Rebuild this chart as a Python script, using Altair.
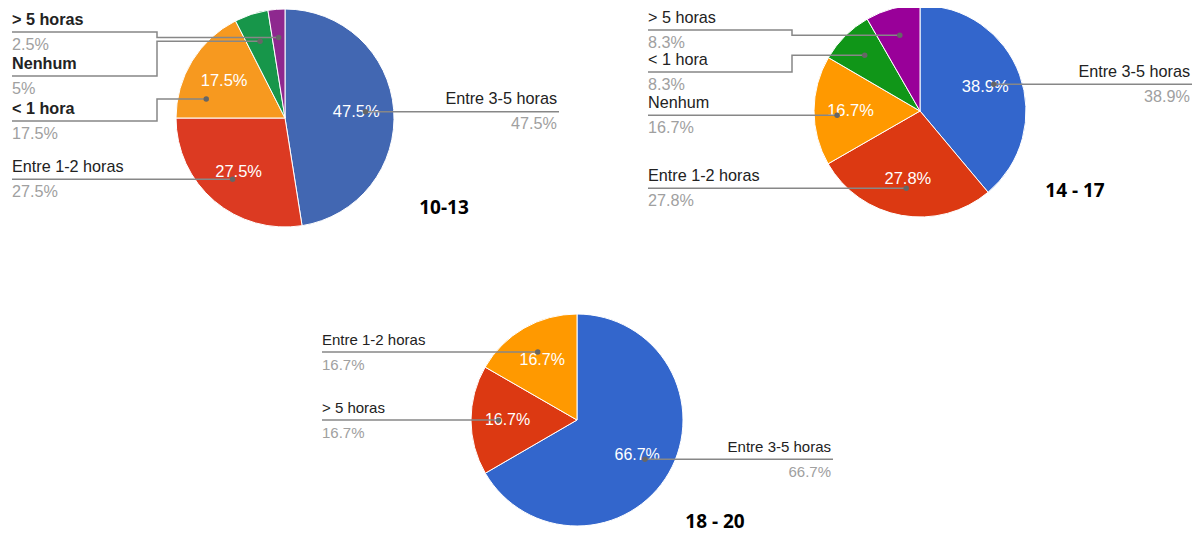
import math
import altair as alt
import pandas as pd

# ---------------- data ----------------
titles = ["10-13", "14 - 17", "18 - 20"]

cats_1013 = ["Entre 3-5 horas", "Entre 1-2 horas", "< 1 hora", "Nenhum", "> 5 horas"]
vals_1013 = [47.5, 27.5, 17.5, 5.0, 2.5]

cats_1417 = ["Entre 3-5 horas", "Entre 1-2 horas", "Nenhum", "< 1 hora", "> 5 horas"]
vals_1417 = [38.9, 27.8, 16.7, 8.3, 8.3]

cats_1820 = ["Entre 3-5 horas", "> 5 horas", "Entre 1-2 horas"]
vals_1820 = [66.7, 16.7, 16.7]

# ---------------- styles / layout ----------------
palette_1013 = ["#4267b2", "#dc3a22", "#f7991f", "#17964a", "#8e288f"]
palette_google = ["#3366cc", "#dc3912", "#ff9900", "#109618", "#990099"]

LABEL_FONT = "Liberation Sans"
TITLE_FONT = "Open Sans"
NAME_COLOR = "#222222"
VALUE_COLOR = "#a0a0a0"
LINE_COLOR = "#878787"
DOT_COLOR = "#666666"

pies = [
    dict(title=titles[0], cats=cats_1013, vals=vals_1013, palette=palette_1013,
         cx=285, cy=118, r=109, left_x=12, elbow_x=157, right_x=559,
         left_line_y={"< 1 hora": 121, "Nenhum": 76, "> 5 horas": 32},
         dot_override={"< 1 hora": (283.5, 81)},
         bold_left=True, font=16.2, pct_font=16.5, title_xy=(444, 208)),
    dict(title=titles[1], cats=cats_1417, vals=vals_1417, palette=palette_google,
         cx=920, cy=111, r=106, left_x=648, elbow_x=792, right_x=1192,
         left_line_y={"> 5 horas": 30, "< 1 hora": 72},
         dot_override={"Nenhum": (267, 83)},
         bold_left=False, font=16.2, pct_font=16.5, title_xy=(1075, 191)),
    dict(title=titles[2], cats=cats_1820, vals=vals_1820, palette=palette_google,
         cx=577, cy=420, r=106, left_x=322, elbow_x=460, right_x=833,
         left_line_y={}, dot_override={},
         bold_left=False, font=15, pct_font=16, title_xy=(715, 522)),
]

arc_rows, pct_rows, line_rows, dot_rows, text_rows, title_rows = [], [], [], [], [], []

for p in pies:
    total = sum(p["vals"])
    cum = 0.0
    for i, (cat, v) in enumerate(zip(p["cats"], p["vals"])):
        t0 = cum / total
        cum += v
        t1 = cum / total
        arc_rows.append(dict(pie=p["title"], cat=cat, cx=p["cx"], cy=p["cy"], r=p["r"],
                             t0=t0, t1=t1, color=p["palette"][i]))
        mid = (t0 + t1) / 2 * 2 * math.pi
        sx, sy = math.sin(mid), -math.cos(mid)
        label = f"{v:g}%"
        if v / total >= 0.1:
            pr = 0.655 * p["r"]
            pct_rows.append(dict(x=p["cx"] + pr * sx, y=p["cy"] + pr * sy, text=label,
                                 size=p["pct_font"]))
        if cat in p["dot_override"]:
            ang, dr = p["dot_override"][cat]
            a = math.radians(ang)
            dx, dy = p["cx"] + dr * math.sin(a), p["cy"] - dr * math.cos(a)
        else:
            dr = 0.74 * p["r"]
            dx, dy = p["cx"] + dr * sx, p["cy"] + dr * sy
        dot_rows.append(dict(x=dx, y=dy))
        lid = f"{p['title']}-{i}"
        if sx > 0:  # right side label
            pts = [(dx, dy), (p["right_x"], dy)]
            ly = dy
            tx = p["right_x"] - 2
            align = "right"
            weight = "normal"
        else:
            ly = p["left_line_y"].get(cat, dy)
            if ly == dy:
                pts = [(dx, dy), (p["left_x"], dy)]
            else:
                pts = [(dx, dy), (p["elbow_x"], dy), (p["elbow_x"], ly), (p["left_x"], ly)]
            tx = p["left_x"]
            align = "left"
            weight = "bold" if (p["bold_left"] and cat != "Entre 1-2 horas") else "normal"
        for k, (px, py) in enumerate(pts):
            line_rows.append(dict(id=lid, k=k, x=px, y=py))
        text_rows.append(dict(x=tx, y=ly - 12.5, text=cat, color=NAME_COLOR,
                              size=p["font"], align=align, weight=weight))
        text_rows.append(dict(x=tx, y=ly + 12.5, text=label, color=VALUE_COLOR,
                              size=p["font"], align=align, weight="normal"))
    title_rows.append(dict(x=p["title_xy"][0], y=p["title_xy"][1], text=p["title"]))

arcs = pd.DataFrame(arc_rows)
pcts = pd.DataFrame(pct_rows)
lines = pd.DataFrame(line_rows)
dots = pd.DataFrame(dot_rows)
texts = pd.DataFrame(text_rows)
tdf = pd.DataFrame(title_rows)

W, H = 1187, 528
xs = alt.Scale(domain=[8, 8 + W], nice=False, zero=False)
ys = alt.Scale(domain=[8, 8 + H], nice=False, zero=False, reverse=True)


def X(f="x"):
    return alt.X(f"{f}:Q", scale=xs, axis=None)


def Y(f="y"):
    return alt.Y(f"{f}:Q", scale=ys, axis=None)


arc_layer = alt.Chart(arcs).mark_arc(stroke="white", strokeWidth=1).encode(
    x=X("cx"), y=Y("cy"),
    theta=alt.Theta("t0:Q", stack=None, scale=alt.Scale(domain=[0, 1], range=[0, 2 * math.pi])),
    theta2="t1:Q",
    radius=alt.Radius("r:Q", scale=None),
    color=alt.Color("color:N", scale=None),
)

pct_layer = alt.Chart(pcts).mark_text(font=LABEL_FONT, color="white", align="center",
                                      baseline="middle").encode(
    x=X(), y=Y(), text="text:N", size=alt.Size("size:Q", scale=None))

line_layer = alt.Chart(lines).mark_line(color=LINE_COLOR, strokeWidth=1.5).encode(
    x=X(), y=Y(), detail="id:N", order="k:Q")

dot_layer = alt.Chart(dots).mark_circle(color=DOT_COLOR, opacity=1, size=30).encode(x=X(), y=Y())

text_layers = []
for (align, weight), g in texts.groupby(["align", "weight"]):
    text_layers.append(
        alt.Chart(g.reset_index(drop=True)).mark_text(
            font=LABEL_FONT, align=align, baseline="middle", fontWeight=weight
        ).encode(x=X(), y=Y(), text="text:N",
                 color=alt.Color("color:N", scale=None),
                 size=alt.Size("size:Q", scale=None))
    )

title_layer = alt.Chart(tdf).mark_text(font=TITLE_FONT, fontWeight="bold", fontSize=19,
                                       color="black", align="center",
                                       baseline="middle").encode(x=X(), y=Y(), text="text:N")

chart = alt.layer(arc_layer, pct_layer, line_layer, dot_layer, *text_layers, title_layer).properties(
    width=W, height=H, padding=0, autosize="none"
).configure_view(stroke=None)

chart.save("out.html", embed_options={"renderer": "svg", "actions": False})
